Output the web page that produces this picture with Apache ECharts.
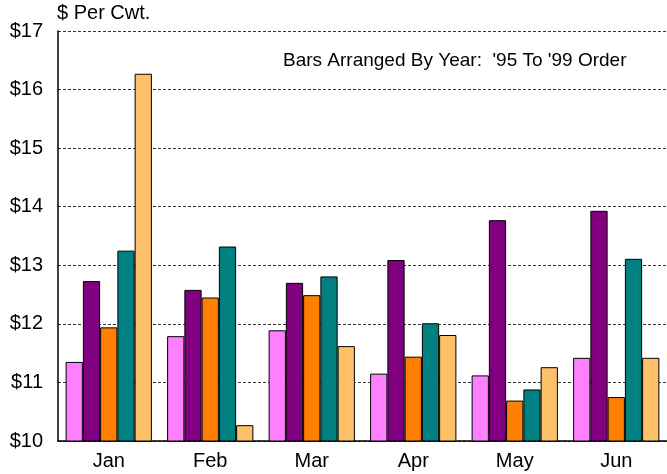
<!DOCTYPE html>
<html>
<head>
<meta charset="utf-8">
<script src="https://cdn.jsdelivr.net/npm/echarts@6/dist/echarts.min.js"></script>
<style>
  html, body { margin: 0; padding: 0; background: #fff; }
  #chart { width: 667px; height: 474px; }
</style>
</head>
<body>
<div id="chart"></div>
<script>
// months on the x axis
var months = ["Jan", "Feb", "Mar", "Apr", "May", "Jun"];
// one array per year, '95 to '99
var y95 = [11.35, 11.79, 11.89, 11.15, 11.12, 11.42];
var y96 = [12.73, 12.58, 12.70, 13.09, 13.77, 13.93];
var y97 = [11.94, 12.45, 12.49, 11.44, 10.69, 10.75];
var y98 = [13.25, 13.32, 12.81, 12.01, 10.88, 13.11];
var y99 = [16.27, 10.27, 11.62, 11.81, 11.26, 11.42];
var yearNames = ["'95", "'96", "'97", "'98", "'99"];
var colors = ["#ff80ff", "#800080", "#ff8000", "#008080", "#ffc06a"];

var font = "'Liberation Sans', Arial, sans-serif";
var chart = echarts.init(document.getElementById("chart"));

var series = [y95, y96, y97, y98, y99].map(function (d, i) {
    return {
        name: yearNames[i],
        type: "bar",
        data: d,
        barGap: "0%",
        barCategoryGap: "15%",
        itemStyle: {color: colors[i], borderColor: "#000", borderWidth: 1}
    };
});

chart.setOption({
    animation: false,
    grid: {left: 58, right: 0, top: 31, bottom: 33},
    xAxis: {
        type: "category",
        data: months,
        axisTick: {show: false},
        axisLine: {lineStyle: {color: "#000", width: 1.5}},
        axisLabel: {color: "#000", fontSize: 20, fontFamily: font, margin: 10}
    },
    yAxis: {
        type: "value",
        min: 10,
        max: 17,
        interval: 1,
        axisLine: {show: true, lineStyle: {color: "#000", width: 1.5}},
        axisTick: {show: false},
        axisLabel: {
            color: "#000", fontSize: 20, fontFamily: font, margin: 15,
            formatter: function (v) { return "$" + v; }
        },
        splitLine: {lineStyle: {color: "#333", type: [3, 2], width: 1}}
    },
    graphic: [
        {type: "text", left: 57, top: 3, style: {text: "$ Per Cwt.", fontSize: 20, fontFamily: font, fill: "#000"}},
        {type: "text", left: 283, top: 51, style: {text: "Bars Arranged By Year:  '95 To '99 Order", fontSize: 19, fontFamily: font, fill: "#000"}}
    ],
    series: series
});
</script>
</body>
</html>
